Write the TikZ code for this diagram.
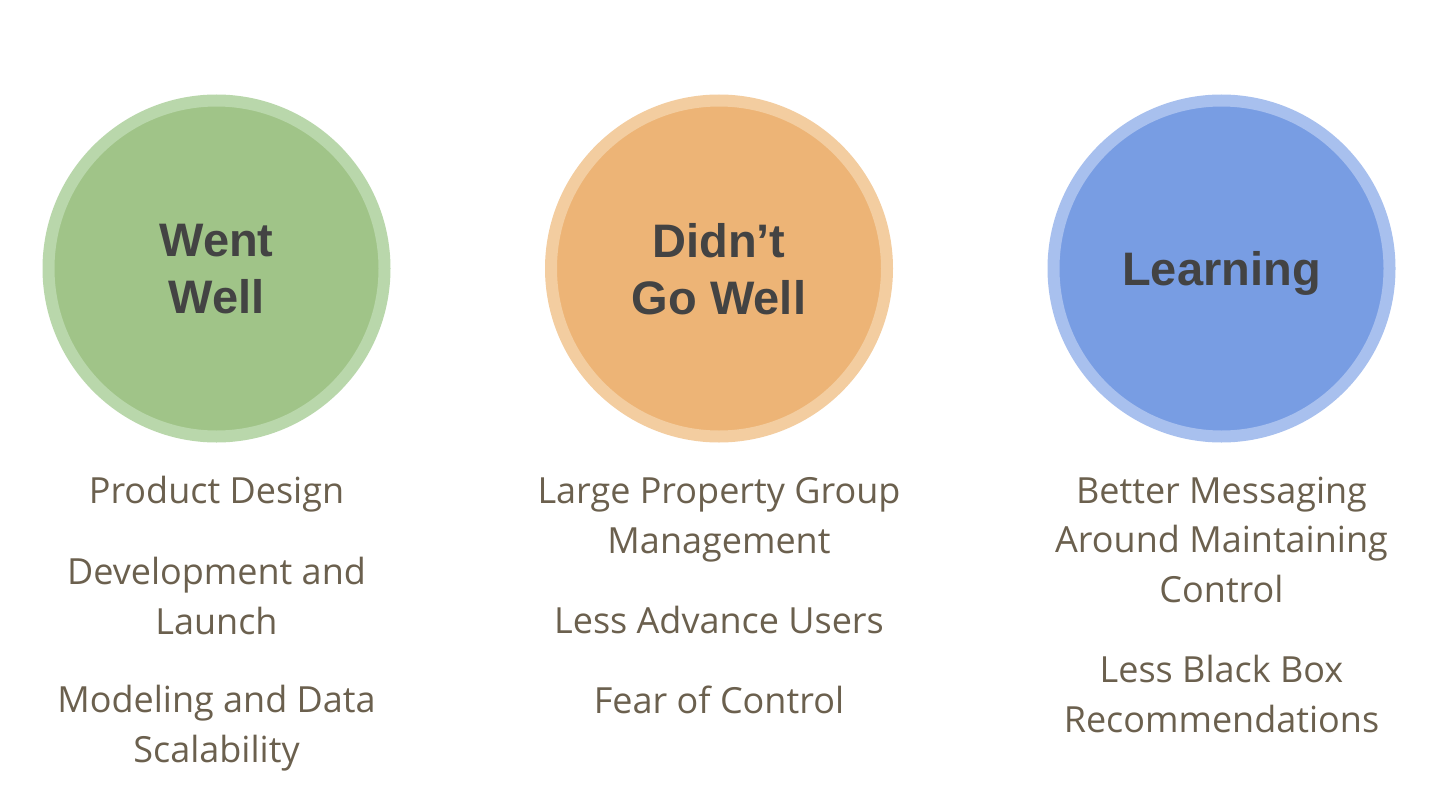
\documentclass[tikz,border=0pt]{standalone}
\usepackage{fontspec}
\setmainfont{Open Sans}
\newfontfamily\headfont{Liberation Sans}
\definecolor{wentfill}{HTML}{A0C488}
\definecolor{wentring}{HTML}{B9D7AB}
\definecolor{didntfill}{HTML}{EDB476}
\definecolor{didntring}{HTML}{F3CDA0}
\definecolor{learnfill}{HTML}{789DE3}
\definecolor{learnring}{HTML}{A8C0EE}
\definecolor{headtext}{HTML}{434343}
\definecolor{itemtext}{HTML}{6B604E}
\tikzset{
  bubble/.style={circle, minimum size=336pt, line width=12pt, inner sep=0pt,
    align=center, text=headtext, text depth=0pt,
    font=\headfont\bfseries\fontsize{47}{57}\selectfont},
  item/.style={anchor=base, align=center, text=itemtext, inner sep=0pt,
    font=\fontsize{36}{49.5}\selectfont}
}
\begin{document}
\begin{tikzpicture}[x=1pt,y=-1pt]
\useasboundingbox (0,0) rectangle (1438,792);
\node[bubble, draw=wentring, fill=wentfill] (went) at (216.5,268.5){Went\\Well};
\node[bubble, draw=didntring, fill=didntfill] (didnt) at (719,268.5){Didn’t\\Go Well};
\node[bubble, draw=learnring, fill=learnfill] (learn) at (1221.5,268.5){Learning};
% items, placed at the baseline of their last line
\node[item] (went1) at (216.5,503){Product Design};
\node[item] (went2) at (216.5,634){Development and\\Launch};
\node[item] (went3) at (216.5,762){Modeling and Data\\Scalability};
\node[item] (didnt1) at (719,553){Large Property Group\\Management};
\node[item] (didnt2) at (719,633){Less Advance Users};
\node[item] (didnt3) at (719,713){Fear of Control};
\node[item] (learn1) at (1221.5,602){Better Messaging\\Around Maintaining\\Control};
\node[item] (learn2) at (1221.5,732){Less Black Box\\Recommendations};
\end{tikzpicture}
\end{document}
